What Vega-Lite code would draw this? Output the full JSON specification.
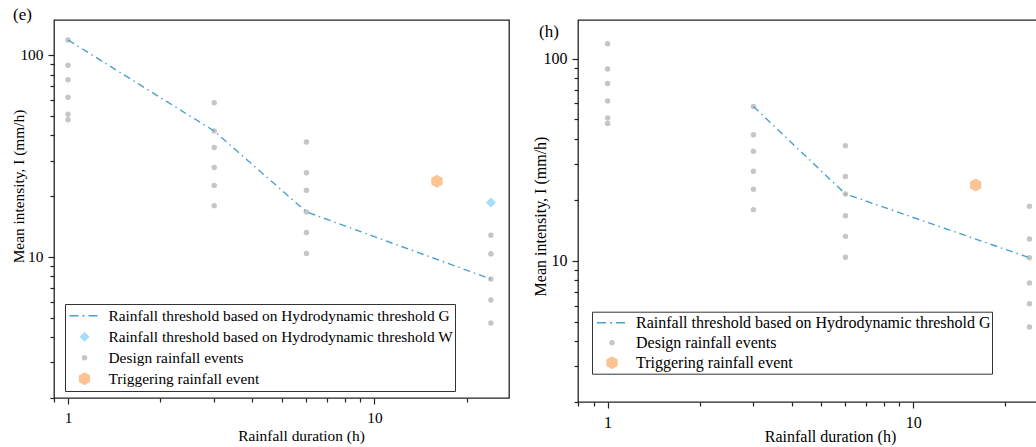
{
  "$schema": "https://vega.github.io/schema/vega-lite/v6.json",
  "padding": {"left": 10, "top": 5, "right": 0, "bottom": 0},
  "bounds": "flush",
  "spacing": 69,
  "datasets": {
    "pts": [
      {"panel": "both", "series": "Design rainfall events", "duration": 1, "intensity": 118.6},
      {"panel": "both", "series": "Design rainfall events", "duration": 1, "intensity": 88.9},
      {"panel": "both", "series": "Design rainfall events", "duration": 1, "intensity": 75.4},
      {"panel": "both", "series": "Design rainfall events", "duration": 1, "intensity": 61.8},
      {"panel": "both", "series": "Design rainfall events", "duration": 1, "intensity": 50.9},
      {"panel": "both", "series": "Design rainfall events", "duration": 1, "intensity": 47.8},
      {"panel": "both", "series": "Design rainfall events", "duration": 3, "intensity": 58.0},
      {"panel": "both", "series": "Design rainfall events", "duration": 3, "intensity": 42.0},
      {"panel": "both", "series": "Design rainfall events", "duration": 3, "intensity": 34.8},
      {"panel": "both", "series": "Design rainfall events", "duration": 3, "intensity": 27.7},
      {"panel": "both", "series": "Design rainfall events", "duration": 3, "intensity": 22.6},
      {"panel": "both", "series": "Design rainfall events", "duration": 3, "intensity": 17.9},
      {"panel": "both", "series": "Design rainfall events", "duration": 6, "intensity": 37.1},
      {"panel": "both", "series": "Design rainfall events", "duration": 6, "intensity": 26.1},
      {"panel": "both", "series": "Design rainfall events", "duration": 6, "intensity": 21.4},
      {"panel": "both", "series": "Design rainfall events", "duration": 6, "intensity": 16.7},
      {"panel": "both", "series": "Design rainfall events", "duration": 6, "intensity": 13.2},
      {"panel": "both", "series": "Design rainfall events", "duration": 6, "intensity": 10.4},
      {"panel": "both", "series": "Design rainfall events", "duration": 24, "intensity": 18.6},
      {"panel": "both", "series": "Design rainfall events", "duration": 24, "intensity": 12.8},
      {"panel": "both", "series": "Design rainfall events", "duration": 24, "intensity": 10.35},
      {"panel": "both", "series": "Design rainfall events", "duration": 24, "intensity": 7.77},
      {"panel": "both", "series": "Design rainfall events", "duration": 24, "intensity": 6.12},
      {"panel": "both", "series": "Design rainfall events", "duration": 24, "intensity": 4.7},
      {"panel": "e", "series": "Rainfall threshold based on Hydrodynamic threshold W", "duration": 24, "intensity": 18.6},
      {"panel": "both", "series": "Triggering rainfall event", "duration": 16, "intensity": 23.7}
    ],
    "lines": [
      {"panel": "e", "series": "Rainfall threshold based on Hydrodynamic threshold G", "duration": 1, "intensity": 118.6},
      {"panel": "e", "series": "Rainfall threshold based on Hydrodynamic threshold G", "duration": 3, "intensity": 42.0},
      {"panel": "e", "series": "Rainfall threshold based on Hydrodynamic threshold G", "duration": 6, "intensity": 16.7},
      {"panel": "e", "series": "Rainfall threshold based on Hydrodynamic threshold G", "duration": 24, "intensity": 7.77},
      {"panel": "h", "series": "Rainfall threshold based on Hydrodynamic threshold G", "duration": 3, "intensity": 58.0},
      {"panel": "h", "series": "Rainfall threshold based on Hydrodynamic threshold G", "duration": 6, "intensity": 21.4},
      {"panel": "h", "series": "Rainfall threshold based on Hydrodynamic threshold G", "duration": 24, "intensity": 10.35}
    ]
  },
  "hconcat": [
    {
      "width": 455,
      "height": 378,
      "title": {"text": "(e)", "anchor": "start", "frame": "group", "baseline": "alphabetic", "offset": -17, "dx": -41, "dy": 0, "fontSize": 17, "font": "Liberation Serif", "fontWeight": "normal", "color": "#000"},
      "layer": [
        {
          "data": {"name": "pts"},
          "transform": [{"filter": "datum.panel !== 'h'"}],
          "mark": {"type": "point", "filled": true, "opacity": 1},
          "encoding": {
            "x": {"field": "duration", "type": "quantitative", "scale": {"type": "log", "domain": [0.9, 27.5], "nice": false, "zero": false},
                  "axis": {"orient": "bottom", "values": [0.9, 2, 3, 4, 5, 6, 7, 8, 9, 20], "labels": false, "tickSize": 4, "title": null}},
            "y": {"field": "intensity", "type": "quantitative", "scale": {"type": "log", "domain": [2, 149], "nice": false, "zero": false},
                  "axis": {"orient": "left", "values": [2, 3, 4, 5, 6, 7, 8, 9, 20, 30, 40, 50, 60, 70, 80, 90], "labels": false, "tickSize": 4, "title": null}},
            "color": {"field": "series", "type": "nominal",
              "scale": {"domain": ["Rainfall threshold based on Hydrodynamic threshold G", "Rainfall threshold based on Hydrodynamic threshold W", "Design rainfall events", "Triggering rainfall event"], "range": ["#4aa0cf", "#a6dcf7", "#c6c6c6", "#fcc493"]},
              "legend": {
                "title": null, "orient": "none", "legendX": 11, "legendY": 284, "padding": 1.5,
                "strokeColor": "#333", "fillColor": "white",
                "labelFont": "Liberation Serif", "labelFontSize": 15.4, "labelColor": "#000", "labelLimit": 1000,
                "clipHeight": 20.3, "rowPadding": 0, "symbolOffset": 2, "labelOffset": 8, "symbolOpacity": 1,
                "symbolDash": [9, 4, 2, 4]
              }
            },
            "stroke": {"field": "series", "type": "nominal",
              "scale": {"domain": ["Rainfall threshold based on Hydrodynamic threshold G", "Rainfall threshold based on Hydrodynamic threshold W", "Design rainfall events", "Triggering rainfall event"], "range": ["#4aa0cf", "#a6dcf7", "#c6c6c6", "#fcc493"]},
              "legend": {"title": null}},
            "shape": {"field": "series", "type": "nominal",
              "scale": {"domain": ["Rainfall threshold based on Hydrodynamic threshold G", "Rainfall threshold based on Hydrodynamic threshold W", "Design rainfall events", "Triggering rainfall event"], "range": ["stroke", "diamond", "circle", "M0,-1L0.866,-0.5L0.866,0.5L0,1L-0.866,0.5L-0.866,-0.5Z"]},
              "legend": {"title": null}},
            "size": {"field": "series", "type": "nominal",
              "scale": {"type": "ordinal", "domain": ["Rainfall threshold based on Hydrodynamic threshold G", "Rainfall threshold based on Hydrodynamic threshold W", "Design rainfall events", "Triggering rainfall event"], "range": [900, 100, 30, 170]},
              "legend": {"title": null}},
            "strokeWidth": {"field": "series", "type": "nominal",
              "scale": {"type": "ordinal", "domain": ["Rainfall threshold based on Hydrodynamic threshold G", "Rainfall threshold based on Hydrodynamic threshold W", "Design rainfall events", "Triggering rainfall event"], "range": [1.5, 0, 0, 0]},
              "legend": {"title": null}}
          }
        },
        {
          "data": {"name": "lines"},
          "transform": [{"filter": "datum.panel === 'e'"}],
          "mark": {"type": "line", "color": "#4aa0cf", "strokeDash": [7, 4, 1.5, 4], "strokeWidth": 1.4},
          "encoding": {
            "x": {"field": "duration", "type": "quantitative", "scale": {"type": "log", "domain": [0.9, 27.5], "nice": false, "zero": false},
                  "axis": {"orient": "bottom", "values": [1, 10], "format": "d", "tickSize": 6, "labelPadding": 6, "labelFontSize": 15.4, "titleFontSize": 15.4, "title": "Rainfall duration (h)", "titleX": 247, "titleY": 30}},
            "y": {"field": "intensity", "type": "quantitative", "scale": {"type": "log", "domain": [2, 149], "nice": false, "zero": false},
                  "axis": {"orient": "left", "values": [10, 100], "format": "d", "tickSize": 6, "labelPadding": 5, "labelFontSize": 15.4, "titleFontSize": 15.4, "title": "Mean intensity, I (mm/h)", "titleX": -28, "titleY": 166}}
          }
        }
      ],
      "resolve": {"axis": {"x": "independent", "y": "independent"}}
    },
    {
      "width": 460,
      "height": 382,
      "title": {"text": "(h)", "anchor": "start", "frame": "group", "baseline": "alphabetic", "offset": -17, "dx": -39, "dy": 17, "fontSize": 17, "font": "Liberation Serif", "fontWeight": "normal", "color": "#000"},
      "layer": [
        {
          "data": {"name": "pts"},
          "transform": [{"filter": "datum.panel !== 'e'"}],
          "mark": {"type": "point", "filled": true, "opacity": 1},
          "encoding": {
            "x": {"field": "duration", "type": "quantitative", "scale": {"type": "log", "domain": [0.8, 25.6], "nice": false, "zero": false},
                  "axis": {"orient": "bottom", "values": [0.8, 0.9, 2, 3, 4, 5, 6, 7, 8, 9, 20], "labels": false, "tickSize": 4, "title": null}},
            "y": {"field": "intensity", "type": "quantitative", "scale": {"type": "log", "domain": [2, 155.3], "nice": false, "zero": false},
                  "axis": {"orient": "left", "values": [2, 3, 4, 5, 6, 7, 8, 9, 20, 30, 40, 50, 60, 70, 80, 90], "labels": false, "tickSize": 4, "title": null}},
            "color": {"field": "series", "type": "nominal",
              "scale": {"domain": ["Rainfall threshold based on Hydrodynamic threshold G", "Design rainfall events", "Triggering rainfall event"], "range": ["#4aa0cf", "#c6c6c6", "#fcc493"]},
              "legend": {
                "title": null, "orient": "none", "legendX": 14, "legendY": 291.7, "padding": 1,
                "strokeColor": "#333", "fillColor": "white",
                "labelFont": "Liberation Serif", "labelFontSize": 16, "labelColor": "#000", "labelLimit": 1000,
                "clipHeight": 20, "rowPadding": 0, "symbolOffset": 3, "labelOffset": 8, "symbolOpacity": 1,
                "symbolDash": [9, 4, 2, 4]
              }
            },
            "stroke": {"field": "series", "type": "nominal",
              "scale": {"domain": ["Rainfall threshold based on Hydrodynamic threshold G", "Design rainfall events", "Triggering rainfall event"], "range": ["#4aa0cf", "#c6c6c6", "#fcc493"]},
              "legend": {"title": null}},
            "shape": {"field": "series", "type": "nominal",
              "scale": {"domain": ["Rainfall threshold based on Hydrodynamic threshold G", "Design rainfall events", "Triggering rainfall event"], "range": ["stroke", "circle", "M0,-1L0.866,-0.5L0.866,0.5L0,1L-0.866,0.5L-0.866,-0.5Z"]},
              "legend": {"title": null}},
            "size": {"field": "series", "type": "nominal",
              "scale": {"type": "ordinal", "domain": ["Rainfall threshold based on Hydrodynamic threshold G", "Design rainfall events", "Triggering rainfall event"], "range": [900, 30, 170]},
              "legend": {"title": null}},
            "strokeWidth": {"field": "series", "type": "nominal",
              "scale": {"type": "ordinal", "domain": ["Rainfall threshold based on Hydrodynamic threshold G", "Design rainfall events", "Triggering rainfall event"], "range": [1.5, 0, 0]},
              "legend": {"title": null}}
          }
        },
        {
          "data": {"name": "lines"},
          "transform": [{"filter": "datum.panel === 'h'"}],
          "mark": {"type": "line", "color": "#4aa0cf", "strokeDash": [7, 4, 1.5, 4], "strokeWidth": 1.4},
          "encoding": {
            "x": {"field": "duration", "type": "quantitative", "scale": {"type": "log", "domain": [0.8, 25.6], "nice": false, "zero": false},
                  "axis": {"orient": "bottom", "values": [1, 10], "format": "d", "tickSize": 6, "labelPadding": 6, "labelFontSize": 16, "titleFontSize": 16, "title": "Rainfall duration (h)", "titleX": 252, "titleY": 26}},
            "y": {"field": "intensity", "type": "quantitative", "scale": {"type": "log", "domain": [2, 155.3], "nice": false, "zero": false},
                  "axis": {"orient": "left", "values": [10, 100], "format": "d", "tickSize": 6, "labelPadding": 5, "labelFontSize": 16, "titleFontSize": 16, "title": "Mean intensity, I (mm/h)", "titleX": -30, "titleY": 196}}
          }
        }
      ],
      "resolve": {"axis": {"x": "independent", "y": "independent"}}
    }
  ],
  "resolve": {
    "scale": {"x": "independent", "y": "independent", "color": "independent", "stroke": "independent", "shape": "independent", "size": "independent", "strokeWidth": "independent"},
    "legend": {"color": "independent", "stroke": "independent", "shape": "independent", "size": "independent", "strokeWidth": "independent"}
  },
  "config": {
    "view": {"stroke": "#222", "strokeWidth": 1.3},
    "font": "Liberation Serif",
    "axis": {"labelFont": "Liberation Serif", "labelFontSize": 15, "labelColor": "#000", "titleFont": "Liberation Serif", "titleFontSize": 15, "titleFontWeight": "normal", "titleColor": "#000", "tickColor": "#222", "tickWidth": 1.2, "domain": false, "grid": false, "labelFlush": false, "labelOverlap": false}
  }
}
